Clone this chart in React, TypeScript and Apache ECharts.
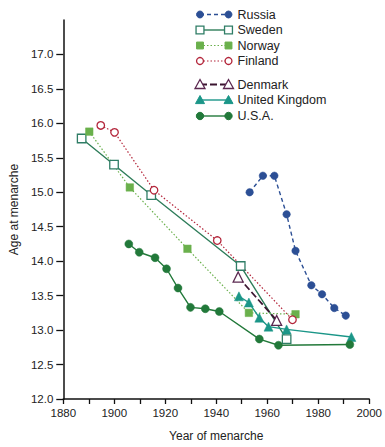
import React, { useEffect, useRef } from "react";
import * as echarts from "echarts";

// Year of menarche / age at menarche
const russiaYears = [1953.1, 1958.3, 1962.8, 1967.6, 1971.1, 1977.3, 1981.5, 1986.3, 1990.8];
const russiaAges = [15.0, 15.24, 15.24, 14.68, 14.15, 13.65, 13.52, 13.32, 13.21];

const swedenYears = [1887.2, 1899.9, 1914.5, 1949.6, 1967.6];
const swedenAges = [15.78, 15.4, 14.96, 13.93, 12.87];

const norwayYears = [1890.2, 1906.1, 1928.7, 1952.8, 1971.1];
const norwayAges = [15.88, 15.07, 14.18, 13.25, 13.23];

const finlandYears = [1894.7, 1900.1, 1915.6, 1940.4, 1969.9];
const finlandAges = [15.97, 15.87, 15.03, 14.3, 13.15];

const denmarkYears = [1948.6, 1963.7];
const denmarkAges = [13.77, 13.14];

const ukYears = [1948.9, 1952.8, 1956.9, 1960.5, 1967.6, 1993.0];
const ukAges = [13.49, 13.4, 13.18, 13.05, 13.01, 12.9];

const usaYears = [1905.7, 1909.8, 1916.0, 1920.5, 1925.0, 1929.9, 1935.7, 1941.2, 1956.9, 1964.4, 1992.4];
const usaAges = [14.25, 14.13, 14.05, 13.89, 13.61, 13.33, 13.31, 13.27, 12.87, 12.78, 12.79];

const yTickValues = [12.0, 12.5, 13.0, 13.5, 14.0, 14.5, 15.0, 15.5, 16.0, 16.5, 17.0];

const FONT = "Liberation Sans, Arial, Helvetica, sans-serif";

type SeriesDef = {
  name: string;
  years: number[];
  ages: number[];
  color: string;
  lineColor: string;
  symbol: "circle" | "rect" | "triangle";
  filled: boolean;
  size: number;
  lineType: "solid" | "dashed" | "dotted" | number[];
  lineWidth: number;
};

const seriesDefs: SeriesDef[] = [
  { name: "Russia", years: russiaYears, ages: russiaAges, color: "#2c4f95", lineColor: "#2c4f95", symbol: "circle", filled: true, size: 7.5, lineType: [4, 3], lineWidth: 1.4 },
  { name: "Sweden", years: swedenYears, ages: swedenAges, color: "#2f7d66", lineColor: "#2f7d5a", symbol: "rect", filled: false, size: 8.5, lineType: "solid", lineWidth: 1.4 },
  { name: "Norway", years: norwayYears, ages: norwayAges, color: "#6ab04c", lineColor: "#6ab04c", symbol: "rect", filled: true, size: 7.5, lineType: [1.5, 2], lineWidth: 1.2 },
  { name: "Finland", years: finlandYears, ages: finlandAges, color: "#b3253a", lineColor: "#b3253a", symbol: "circle", filled: false, size: 7.5, lineType: [1.5, 2], lineWidth: 1.2 },
  { name: "Denmark", years: denmarkYears, ages: denmarkAges, color: "#5b2850", lineColor: "#3b1530", symbol: "triangle", filled: false, size: 10, lineType: [7, 3], lineWidth: 1.8 },
  { name: "United Kingdom", years: ukYears, ages: ukAges, color: "#1b9688", lineColor: "#1b9688", symbol: "triangle", filled: true, size: 9, lineType: "solid", lineWidth: 1.4 },
  { name: "U.S.A.", years: usaYears, ages: usaAges, color: "#22793a", lineColor: "#22793a", symbol: "circle", filled: true, size: 8, lineType: "solid", lineWidth: 1.4 },
];

const legendRowsY = [14.5, 30, 45.5, 61, 84.5, 100, 116];

function legendSymbol(def: SeriesDef, cx: number, cy: number): any {
  const style = def.filled
    ? { fill: def.color, stroke: def.color, lineWidth: 1 }
    : { fill: "#fff", stroke: def.color, lineWidth: 1.3 };
  const r = def.size / 2;
  if (def.symbol === "circle") {
    return { type: "circle", shape: { cx, cy, r: r - 0.3 }, style, z: 10 };
  }
  if (def.symbol === "rect") {
    return { type: "rect", shape: { x: cx - r + 0.3, y: cy - r + 0.3, width: def.size - 0.6, height: def.size - 0.6 }, style, z: 10 };
  }
  return {
    type: "polygon",
    shape: { points: [[cx, cy - r], [cx + r, cy + r * 0.8], [cx - r, cy + r * 0.8]] },
    style,
    z: 10,
  };
}

export default function App() {
  const ref = useRef<HTMLDivElement>(null);

  useEffect(() => {
    if (!ref.current) return;
    const chart = echarts.init(ref.current, undefined, { renderer: "svg" });

    const legendGraphics: any[] = [];
    seriesDefs.forEach((def, i) => {
      const y = legendRowsY[i];
      const x1 = 200;
      const x2 = 228.5;
      legendGraphics.push({
        type: "line",
        shape: { x1, y1: y, x2, y2: y },
        style: {
          stroke: def.lineColor,
          lineWidth: def.lineWidth,
          lineDash: Array.isArray(def.lineType) ? def.lineType : def.lineType === "solid" ? null : def.lineType,
        },
        z: 9,
      });
      legendGraphics.push(legendSymbol(def, x1, y));
      legendGraphics.push(legendSymbol(def, x2, y));
      legendGraphics.push({
        type: "text",
        x: 237.5,
        y,
        style: { text: def.name, fill: "#222", font: `12.5px ${FONT}`, textVerticalAlign: "middle", textAlign: "left" },
        z: 10,
      });
    });

    chart.setOption({
      animation: false,
      backgroundColor: "#ffffff",
      grid: { left: 61.5, right: 13, top: 20, bottom: 45 },
      xAxis: {
        type: "value",
        min: 1880,
        max: 2000,
        interval: 10,
        name: "Year of menarche",
        nameLocation: "middle",
        nameGap: 31,
        nameTextStyle: { color: "#222", fontSize: 12, fontFamily: FONT },
        axisLine: { show: true, onZero: false, lineStyle: { color: "#111", width: 1.5 } },
        axisTick: { show: true, length: 5, lineStyle: { color: "#111", width: 1.3 } },
        axisLabel: {
          color: "#222",
          fontSize: 11.5,
          fontFamily: FONT,
          margin: 8,
          formatter: (v: number) => (Math.round(v) % 20 === 0 ? String(Math.round(v)) : ""),
        },
        splitLine: { show: false },
      },
      yAxis: {
        type: "value",
        min: 12,
        max: 17.5,
        interval: 0.5,
        name: "Age at menarche",
        nameLocation: "middle",
        nameGap: 43,
        nameRotate: 90,
        nameTextStyle: { color: "#222", fontSize: 12, fontFamily: FONT },
        axisLine: { show: true, onZero: false, lineStyle: { color: "#111", width: 1.5 } },
        axisTick: { show: true, length: 7, customValues: yTickValues, lineStyle: { color: "#111", width: 1.3 } },
        axisLabel: {
          color: "#222",
          fontSize: 11.5,
          fontFamily: FONT,
          margin: 10,
          customValues: yTickValues,
          formatter: (v: number) => (v > 17.01 ? "" : v.toFixed(1)),
        },
        splitLine: { show: false },
      },
      series: seriesDefs.map((def) => ({
        name: def.name,
        type: "line",
        data: def.years.map((yr, j) => [yr, def.ages[j]]),
        symbol: def.symbol,
        symbolSize: def.size,
        showSymbol: true,
        lineStyle: { color: def.lineColor, width: def.lineWidth, type: def.lineType },
        itemStyle: def.filled
          ? { color: def.color, borderColor: def.color, borderWidth: 0.5 }
          : { color: "#ffffff", borderColor: def.color, borderWidth: 1.3 },
        emphasis: { disabled: true },
        z: 3,
      })),
      graphic: legendGraphics,
    });

    return () => chart.dispose();
  }, []);

  return (
    <div
      ref={ref}
      style={{ position: "fixed", left: 0, top: 0, width: 385, height: 447, background: "#fff" }}
    />
  );
}
